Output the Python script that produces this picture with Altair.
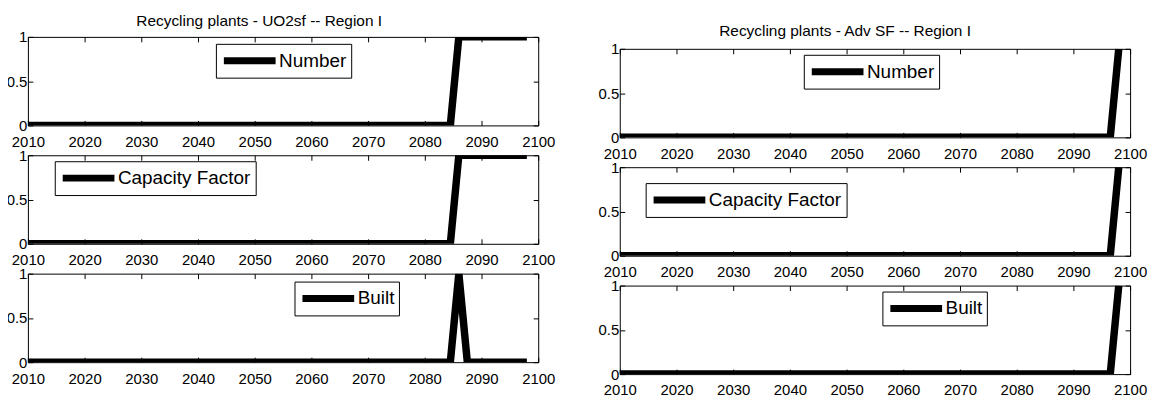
import altair as alt
import pandas as pd

# ---------------- data ----------------
YEAR_TICKS = [2010, 2020, 2030, 2040, 2050, 2060, 2070, 2080, 2090, 2100]
Y_TICKS = [0, 0.5, 1]

# Left column: Recycling plants - UO2sf -- Region I
UO2_NUMBER_YEARS = [2010, 2084.5, 2086, 2098]
UO2_NUMBER_VALUES = [0, 0, 1, 1]
UO2_CF_YEARS = [2010, 2084.5, 2086, 2098]
UO2_CF_VALUES = [0, 0, 1, 1]
UO2_BUILT_YEARS = [2010, 2084.5, 2086, 2087.5, 2098]
UO2_BUILT_VALUES = [0, 0, 1, 0, 0]

# Right column: Recycling plants - Adv SF -- Region I
ADV_NUMBER_YEARS = [2010, 2096.5, 2098]
ADV_NUMBER_VALUES = [0, 0, 1]
ADV_CF_YEARS = [2010, 2096.5, 2098]
ADV_CF_VALUES = [0, 0, 1]
ADV_BUILT_YEARS = [2010, 2096.5, 2098]
ADV_BUILT_VALUES = [0, 0, 1]

TITLE_LEFT = "Recycling plants - UO2sf -- Region I"
TITLE_RIGHT = "Recycling plants - Adv SF -- Region I"

# ---------------- style ----------------
FONT = "Liberation Sans"
W = 513
H = 89
TICK = 5
GAP = 30


def panel(years, values, label, lx, ly):
    df = pd.DataFrame({"year": years, "value": values, "series": [label] * len(years)})
    return alt.Chart(df).mark_line(strokeWidth=7.5, clip=True).encode(
        x=alt.X(
            "year:Q",
            scale=alt.Scale(domain=[2010, 2100], nice=False, zero=False),
            axis=alt.Axis(
                values=YEAR_TICKS, format="d", title=None, ticks=False, domain=False,
                grid=True, gridColor="black", gridWidth=1,
                gridDash=[TICK, H - 2 * TICK, TICK, 1000],
                labelFont=FONT, labelFontSize=15, labelColor="black",
                labelPadding=9, labelFlush=False,
            ),
        ),
        y=alt.Y(
            "value:Q",
            scale=alt.Scale(domain=[0, 1], nice=False),
            axis=alt.Axis(
                values=Y_TICKS, format="~g", title=None, ticks=False, domain=False,
                grid=True, gridColor="black", gridWidth=1,
                gridDash=[TICK, W - 2 * TICK, TICK, 1000],
                labelFont=FONT, labelFontSize=15, labelColor="black",
                labelPadding=1,
            ),
        ),
        color=alt.Color(
            "series:N",
            scale=alt.Scale(range=["black"]),
            legend=alt.Legend(
                title=None, orient="none", legendX=lx, legendY=ly,
                fillColor="white", strokeColor="black", padding=4.5,
                symbolType="stroke", symbolSize=2704, symbolStrokeWidth=7,
                symbolStrokeColor="black",
                labelFont=FONT, labelFontSize=19, labelColor="black",
                labelOffset=0, clipHeight=25,
            ),
        ),
    ).properties(width=W, height=H)


def header(h, title, dx, gap_above_plot):
    # invisible strip at the top of a column that carries the column title
    return alt.Chart(pd.DataFrame({"v": [0]})).mark_point(opacity=0).properties(
        width=W, height=h, view=alt.ViewBackground(strokeOpacity=0),
        title=alt.TitleParams(
            text=title, orient="bottom", font=FONT, fontSize=15.5,
            fontWeight="normal", color="black", anchor="middle", dx=dx,
            offset=GAP - gap_above_plot, baseline="alphabetic",
        ),
    )


left = alt.vconcat(
    header(1, TITLE_LEFT, -24, 13),
    panel(UO2_NUMBER_YEARS, UO2_NUMBER_VALUES, "Number", 189, 7),
    panel(UO2_CF_YEARS, UO2_CF_VALUES, "Capacity Factor", 27, 6),
    panel(UO2_BUILT_YEARS, UO2_BUILT_VALUES, "Built", 268, 8),
    spacing=GAP, bounds="flush",
).resolve_scale(color="independent")

right = alt.vconcat(
    header(13, TITLE_RIGHT, -30, 13),
    panel(ADV_NUMBER_YEARS, ADV_NUMBER_VALUES, "Number", 185, 6),
    panel(ADV_CF_YEARS, ADV_CF_VALUES, "Capacity Factor", 26, 16),
    panel(ADV_BUILT_YEARS, ADV_BUILT_VALUES, "Built", 264, 6),
    spacing=GAP, bounds="flush",
).resolve_scale(color="independent")

chart = (
    alt.hconcat(left, right, spacing=41)
    .resolve_scale(color="independent")
    .properties(padding={"left": -3, "top": -6, "right": 0, "bottom": 0}, background="white")
    .configure_view(stroke="black", strokeWidth=1)
)

chart.save("out.html", embed_options={"renderer": "svg", "actions": False})
